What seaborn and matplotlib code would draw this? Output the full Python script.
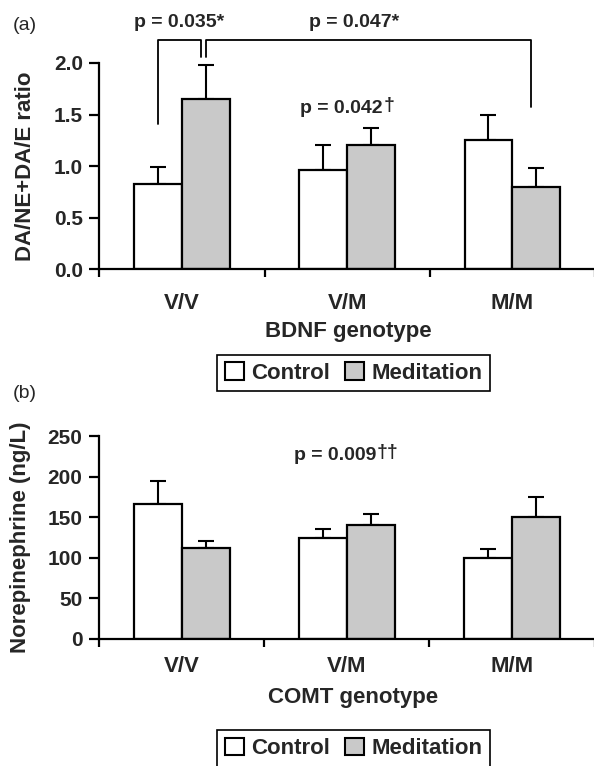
import numpy as np
import pandas as pd
import seaborn as sns
import matplotlib
matplotlib.use('Agg')
import matplotlib.pyplot as plt
from matplotlib.patches import Patch

# Data
genotypes = ['V/V', 'V/M', 'M/M']
groups = ['Control', 'Meditation']

ratio_control = [0.83, 0.96, 1.25]
ratio_control_se = [0.16, 0.25, 0.25]
ratio_meditation = [1.65, 1.21, 0.80]
ratio_meditation_se = [0.33, 0.165, 0.18]

ne_control = [166, 124, 100]
ne_control_se = [29, 11, 11]
ne_meditation = [112, 140, 150]
ne_meditation_se = [9, 14, 25]

ratio_ticks = [0.0, 0.5, 1.0, 1.5, 2.0]
ne_ticks = [0, 50, 100, 150, 200, 250]

sns.set_style('ticks')
plt.rcParams['font.family'] = ['Liberation Sans', 'DejaVu Sans']

FILL = {'Control': 'white', 'Meditation': '#c9c9c9'}


def draw_panel(ax, ctrl, ctrl_se, med, med_se, ylim, yticks, fmt,
               ylabel, ylabel_x, xlabel, xlabel_xy, xpad):
    df = pd.DataFrame({
        'genotype': genotypes * 2,
        'group': ['Control'] * 3 + ['Meditation'] * 3,
        'value': ctrl + med,
    })
    sns.barplot(data=df, x='genotype', y='value', hue='group',
                order=genotypes, hue_order=groups, palette=FILL,
                edgecolor='black', linewidth=1.6, width=0.58,
                errorbar=None, legend=False, ax=ax, zorder=2)
    centers = {}
    for cont, grp, se in zip(ax.containers, groups, [ctrl_se, med_se]):
        xs = [b.get_x() + b.get_width() / 2 for b in cont]
        hs = [b.get_height() for b in cont]
        ax.errorbar(xs, hs, yerr=[np.zeros(len(se)), se], fmt='none',
                    ecolor='black', elinewidth=1.5, capsize=5.5,
                    capthick=1.5, clip_on=False, zorder=1)
        centers[grp] = xs

    ax.set_xlim(-0.5, 2.5)
    ax.set_ylim(*ylim)
    sns.despine(ax=ax)
    for s in ['left', 'bottom']:
        ax.spines[s].set_linewidth(1.6)
        ax.spines[s].set_color('black')

    ax.set_xticks([0, 1, 2])
    ax.set_xticklabels(genotypes, fontsize=16, fontweight='bold')
    ax.set_xticks([-0.5, 0.5, 1.5, 2.5], minor=True)
    ax.tick_params(axis='x', which='major', length=0, pad=xpad)
    ax.tick_params(axis='x', which='minor', length=6, width=1.6,
                   direction='out', color='black')

    ax.set_yticks(yticks)
    ax.set_yticklabels([fmt.format(t) for t in yticks], fontsize=15,
                       fontweight='bold')
    ax.tick_params(axis='y', length=7, width=1.6, pad=5, color='black')

    ax.set_ylabel(ylabel, fontsize=16, fontweight='bold', va='center')
    ax.yaxis.set_label_coords(ylabel_x, 0.5)
    ax.set_xlabel(xlabel, fontsize=16, fontweight='bold', va='center')
    ax.xaxis.set_label_coords(*xlabel_xy)
    ax.set_facecolor('white')
    return centers


def p_label(ax, x, y, text, mark=''):
    t = ax.text(x, y, text, fontsize=14, fontweight='bold', ha='left',
                va='baseline', clip_on=False)
    if mark:
        ax.annotate(mark, xy=(1, 0), xycoords=t, xytext=(0.5, 5),
                    textcoords='offset points', ha='left', va='baseline',
                    fontsize=14, fontweight='bold')
    return t


fig = plt.figure(figsize=(5.94, 7.66), dpi=100)
fig.patch.set_facecolor('white')

ax_a = fig.add_axes([0.1675, 0.6482, 0.8342, 0.2696])
ax_b = fig.add_axes([0.1667, 0.1658, 0.8342, 0.2650])

cen = draw_panel(ax_a, ratio_control, ratio_control_se, ratio_meditation,
                 ratio_meditation_se, (0, 2.0), ratio_ticks, '{:.1f}',
                 'DA/NE+DA/E ratio', -0.150, 'BDNF genotype',
                 (0.5015, -0.301), 17)

draw_panel(ax_b, ne_control, ne_control_se, ne_meditation, ne_meditation_se,
           (0, 250), ne_ticks, '{:d}', 'Norepinephrine (ng/L)', -0.159,
           'COMT genotype', (0.5126, -0.286), 12)

# significance brackets in panel (a)
vc = cen['Control'][0]
vm = cen['Meditation'][0]
mm = cen['Meditation'][2]
top, drop = 2.22, 2.06
kw = dict(color='black', lw=1.3, clip_on=False, zorder=3)
ax_a.plot([vc, vc, vm - 0.03, vm - 0.03], [1.41, top, top, drop], **kw)
ax_a.plot([vm, vm, mm - 0.03, mm - 0.03], [drop, top, top, 1.57], **kw)

p_label(ax_a, -0.29, 2.35, 'p = 0.035*')
p_label(ax_a, 0.77, 2.35, 'p = 0.047*')
p_label(ax_a, 0.716, 1.52, 'p = 0.042', '†')
p_label(ax_b, 0.68, 221, 'p = 0.009', '††')

fig.text(13 / 594, 1 - 26 / 766, '(a)', fontsize=14, va='center')
fig.text(13 / 594, 1 - 394 / 766, '(b)', fontsize=14, va='center')

handles = [Patch(facecolor=FILL[g], edgecolor='black', linewidth=1.5)
           for g in groups]
for yc in [0.513, 0.0226]:
    leg = fig.legend(handles, groups, loc='center',
                     bbox_to_anchor=(0.5955, yc), ncol=2, frameon=True,
                     fancybox=False, edgecolor='black', framealpha=1,
                     prop=dict(weight='bold', size=16), handlelength=0.86,
                     handleheight=0.82, handletextpad=0.32,
                     columnspacing=0.68, borderpad=0.35)
    leg.get_frame().set_linewidth(1.2)

fig.savefig('out.png', dpi=100)
